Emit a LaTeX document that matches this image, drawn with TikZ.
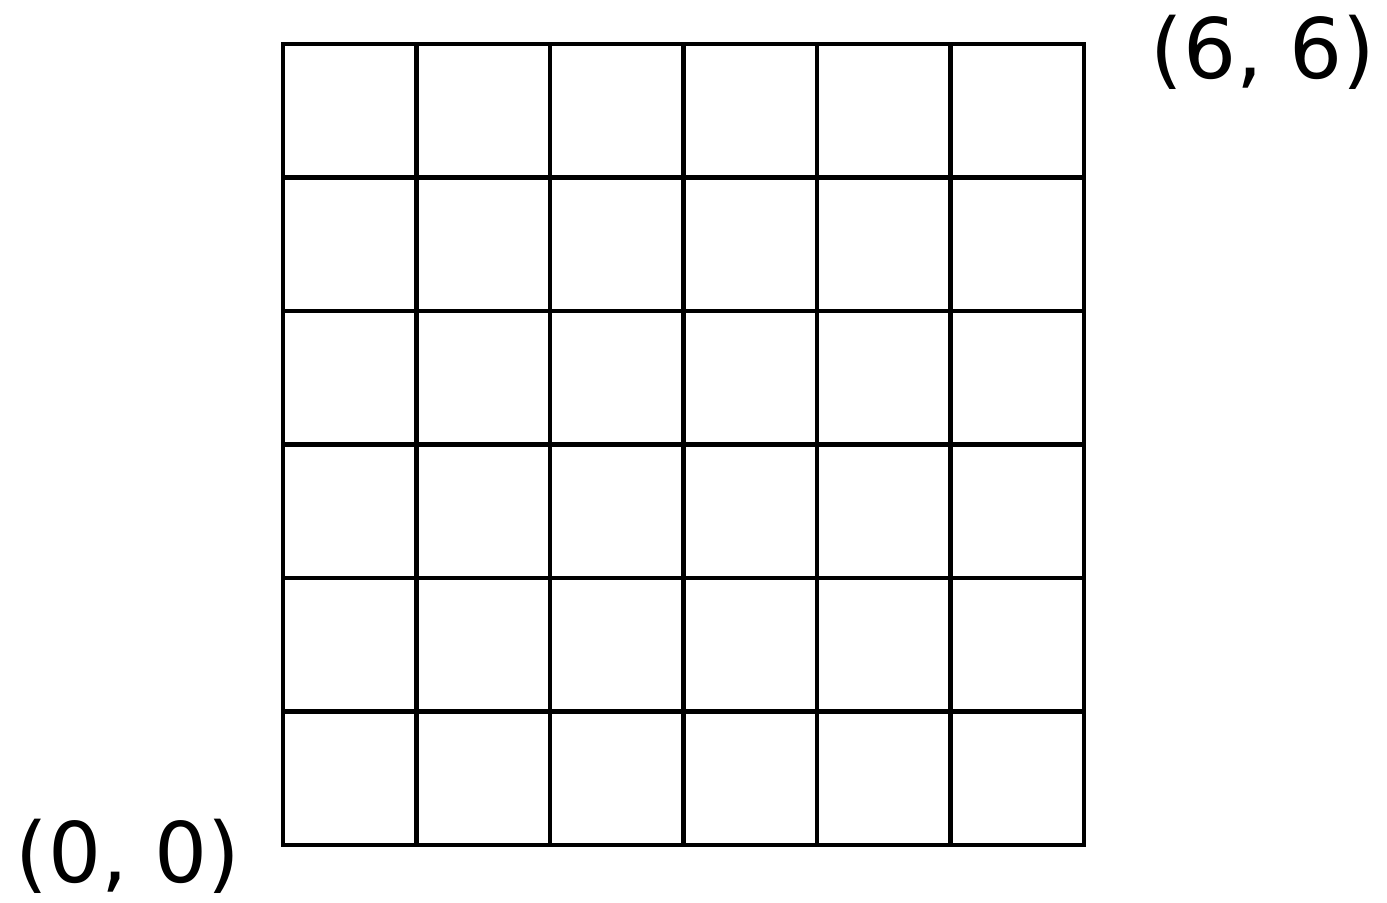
\documentclass[tikz,border=0pt]{standalone}
\usepackage{fontspec}
\setmainfont{DejaVu Sans}
\usepackage{xcolor}
\usepackage{tikz}
\usetikzlibrary{positioning,calc}
\definecolor{gdedge}{RGB}{0,0,0}
\tikzset{
  gdline/.style={draw=gdedge, line width=1pt, line cap=rect},
  corner/.style={font=\fontsize{17.8}{21}\selectfont, inner sep=0pt, anchor=base, text=gdedge},
  every picture/.append style={line join=miter}
}
\begin{document}
\begin{tikzpicture}
  \useasboundingbox (-2.12,-0.427) rectangle (8.27,6.33);
  \foreach \i in {0,...,6} {
    \draw[gdline] (\i,0) -- (\i,6);
    \draw[gdline] (0,\i) -- (6,\i);
  }
  \node[corner] (orig) at (-1.16,-0.28) {(0, 0)};
  \node[corner] (top) at (7.34,5.74) {(6, 6)};
\end{tikzpicture}
\end{document}
